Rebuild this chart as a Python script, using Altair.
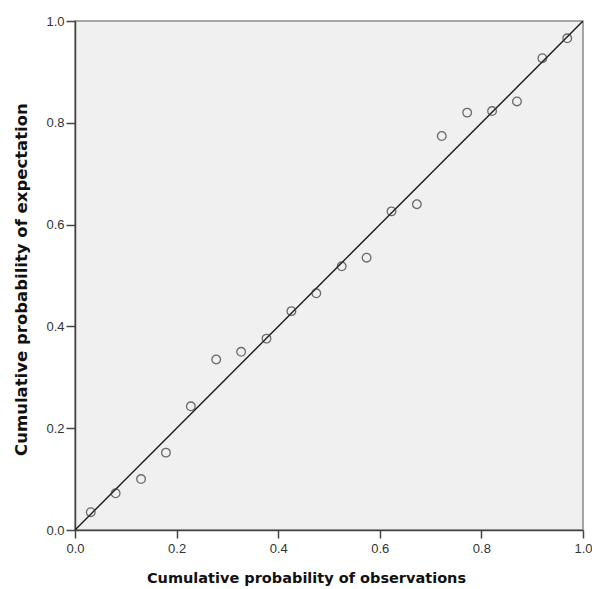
import altair as alt
import pandas as pd

# Blom plotting positions for n = 20 observations
observed = [0.031, 0.080, 0.130, 0.179, 0.228, 0.278, 0.327, 0.377, 0.426, 0.475,
            0.525, 0.574, 0.623, 0.673, 0.722, 0.772, 0.821, 0.870, 0.920, 0.969]
expected = [0.035, 0.072, 0.100, 0.152, 0.243, 0.335, 0.350, 0.376, 0.430, 0.465,
            0.518, 0.535, 0.626, 0.640, 0.774, 0.820, 0.823, 0.842, 0.927, 0.966]
ref_line = [0.0, 1.0]

pts = pd.DataFrame({"obs": observed, "exp": expected})
diag = pd.DataFrame({"obs": ref_line, "exp": ref_line})

xscale = alt.Scale(domain=[0, 1], nice=False, zero=False)
yscale = alt.Scale(domain=[0, 1], nice=False, zero=False)

ticks = [0.0, 0.2, 0.4, 0.6, 0.8, 1.0]

x_axis = alt.Axis(title="Cumulative probability of observations", values=ticks,
                  format=".1f", grid=False, tickSize=8, labelPadding=4,
                  labelFlush=False, titlePadding=16, titleFontSize=14.5,
                  titleX=231)
y_axis = alt.Axis(title="Cumulative probability of expectation", values=ticks,
                  format=".1f", grid=False, tickSize=9, labelPadding=2,
                  labelFlush=False, titlePadding=16, titleFontSize=16.5,
                  titleY=258)

line = alt.Chart(diag).mark_line(color="#1a1a1a", strokeWidth=1.4, clip=True).encode(
    x=alt.X("obs:Q", scale=xscale, axis=x_axis),
    y=alt.Y("exp:Q", scale=yscale, axis=y_axis),
)

points = alt.Chart(pts).mark_point(
    shape="circle", filled=False, size=75, color="#333333", strokeWidth=1.3
).encode(
    x=alt.X("obs:Q", scale=xscale),
    y=alt.Y("exp:Q", scale=yscale),
)

chart = (
    alt.layer(line, points)
    .properties(
        width=508,
        height=509,
        autosize=alt.AutoSizeParams(type="none"),
        padding={"left": 75, "top": 21, "right": 9, "bottom": 59},
        background="white",
    )
    .configure_view(fill="#f0f0f0", stroke="#8a8a8a", strokeWidth=1.5)
    .configure_axis(
        domainColor="#444444",
        domainWidth=1.5,
        tickColor="#444444",
        tickWidth=1.5,
        labelFont="Liberation Sans",
        labelFontSize=13,
        labelColor="#333333",
        titleFont="DejaVu Sans",
        titleFontWeight="bold",
        titleColor="#111111",
    )
)

chart.save("out.html", embed_options={"renderer": "svg", "actions": False})
